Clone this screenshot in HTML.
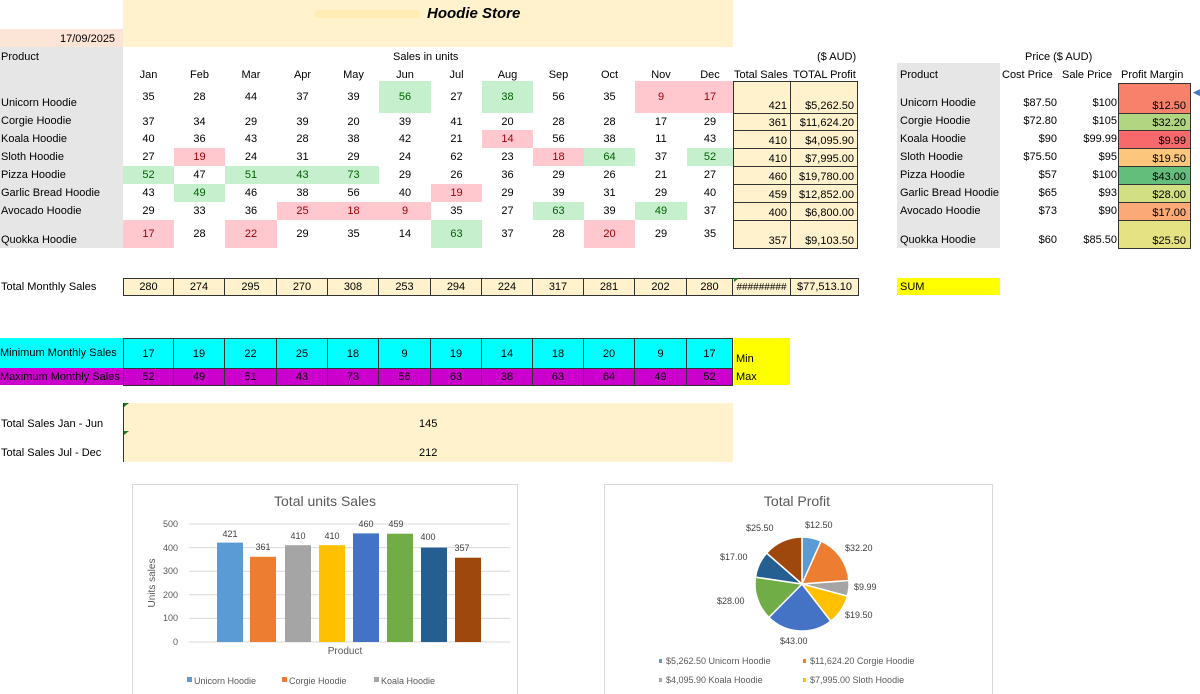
<!DOCTYPE html>
<html><head><meta charset="utf-8"><style>
*{margin:0;padding:0;box-sizing:border-box}
body{width:1200px;height:694px;position:relative;background:#fff;font-family:"Liberation Sans",Arial,sans-serif;font-size:11px;color:#000;overflow:hidden}
.a{position:absolute;white-space:nowrap}
.row{position:absolute;left:123px;display:flex}
.row div{text-align:center;display:flex;align-items:center;justify-content:center;flex:none}
.w1{width:51px}.w2{width:52px}.w3{width:46px}
.g{background:#c6efce;color:#006100}
.r{background:#ffc7ce;color:#9c0006}
.bx div{border:1px solid #333;border-left:none}
.bx div:first-child{border-left:1px solid #333}
.tot div{background:#fff2cc}
.mn div{background:#00ffff}
.mx div{background:#cc00cc}
.ts{position:absolute;background:#fff2cc;border:1px solid #333;text-align:right;padding-right:3px;display:flex;align-items:flex-end;justify-content:flex-end;padding-bottom:1px}
.rt{position:absolute;text-align:right}
.pm{position:absolute;left:1118px;width:73px;border:1px solid #333;text-align:right;padding-right:4px;display:flex;align-items:flex-end;justify-content:flex-end;padding-bottom:1px}
</style></head><body>
<div class="a" style="left:123px;top:0;width:610px;height:47px;background:#fff2cc"></div>
<div class="a" style="left:315px;top:10px;width:105px;height:8px;background:#fdeaa8;border-radius:4px;opacity:.7"></div>
<div class="a" style="left:427px;top:5px;font-size:15px;font-weight:bold;font-style:italic">Hoodie Store</div>
<div class="a" style="left:0;top:29px;width:123px;height:18px;background:#fce4d6"></div>
<div class="a" style="left:60px;top:33px">17/09/2025</div>
<div class="a" style="left:0;top:47px;width:123px;height:201px;background:#e7e6e6"></div>
<div class="a" style="left:1px;top:51px">Product</div>
<div class="a" style="left:393px;top:51px">Sales in units</div>
<div class="a" style="left:817px;top:51px">($ AUD)</div>
<div class="a" style="left:1025px;top:51px">Price ($ AUD)</div>
<div class="row" style="top:68px;height:14px">
<div class="w1">Jan</div><div class="w1">Feb</div><div class="w2">Mar</div><div class="w1">Apr</div><div class="w1">May</div><div class="w2">Jun</div><div class="w1">Jul</div><div class="w1">Aug</div><div class="w1">Sep</div><div class="w1">Oct</div><div class="w2">Nov</div><div class="w3">Dec</div></div>
<div class="a" style="left:734px;top:69px">Total Sales</div>
<div class="a" style="left:793px;top:69px">TOTAL Profit</div>
<div class="a" style="left:897px;top:63px;width:103px;height:185px;background:#e7e6e6"></div>
<div class="a" style="left:900px;top:69px">Product</div>
<div class="a" style="left:1002px;top:69px">Cost Price</div>
<div class="a" style="left:1062px;top:69px">Sale Price</div>
<div class="a" style="left:1121px;top:69px">Profit Margin</div>

<div class="a" style="left:1px;top:97px">Unicorn Hoodie</div>
<div class="a" style="left:1px;top:115px">Corgie Hoodie</div>
<div class="a" style="left:1px;top:133px">Koala Hoodie</div>
<div class="a" style="left:1px;top:151px">Sloth Hoodie</div>
<div class="a" style="left:1px;top:169px">Pizza Hoodie</div>
<div class="a" style="left:1px;top:187px">Garlic Bread Hoodie</div>
<div class="a" style="left:1px;top:205px">Avocado Hoodie</div>
<div class="a" style="left:1px;top:234px">Quokka Hoodie</div>

<div class="row" style="top:81px;height:32px"><div class="w1">35</div><div class="w1">28</div><div class="w2">44</div><div class="w1">37</div><div class="w1">39</div><div class="w2 g">56</div><div class="w1">27</div><div class="w1 g">38</div><div class="w1">56</div><div class="w1">35</div><div class="w2 r">9</div><div class="w3 r">17</div></div>
<div class="row" style="top:113px;height:17px"><div class="w1">37</div><div class="w1">34</div><div class="w2">29</div><div class="w1">39</div><div class="w1">20</div><div class="w2">39</div><div class="w1">41</div><div class="w1">20</div><div class="w1">28</div><div class="w1">28</div><div class="w2">17</div><div class="w3">29</div></div>
<div class="row" style="top:130px;height:18px"><div class="w1">40</div><div class="w1">36</div><div class="w2">43</div><div class="w1">28</div><div class="w1">38</div><div class="w2">42</div><div class="w1">21</div><div class="w1 r">14</div><div class="w1">56</div><div class="w1">38</div><div class="w2">11</div><div class="w3">43</div></div>
<div class="row" style="top:148px;height:18px"><div class="w1">27</div><div class="w1 r">19</div><div class="w2">24</div><div class="w1">31</div><div class="w1">29</div><div class="w2">24</div><div class="w1">62</div><div class="w1">23</div><div class="w1 r">18</div><div class="w1 g">64</div><div class="w2">37</div><div class="w3 g">52</div></div>
<div class="row" style="top:166px;height:18px"><div class="w1 g">52</div><div class="w1">47</div><div class="w2 g">51</div><div class="w1 g">43</div><div class="w1 g">73</div><div class="w2">29</div><div class="w1">26</div><div class="w1">36</div><div class="w1">29</div><div class="w1">26</div><div class="w2">21</div><div class="w3">27</div></div>
<div class="row" style="top:184px;height:18px"><div class="w1">43</div><div class="w1 g">49</div><div class="w2">46</div><div class="w1">38</div><div class="w1">56</div><div class="w2">40</div><div class="w1 r">19</div><div class="w1">29</div><div class="w1">39</div><div class="w1">31</div><div class="w2">29</div><div class="w3">40</div></div>
<div class="row" style="top:202px;height:18px"><div class="w1">29</div><div class="w1">33</div><div class="w2">36</div><div class="w1 r">25</div><div class="w1 r">18</div><div class="w2 r">9</div><div class="w1">35</div><div class="w1">27</div><div class="w1 g">63</div><div class="w1">39</div><div class="w2 g">49</div><div class="w3">37</div></div>
<div class="row" style="top:220px;height:28px"><div class="w1 r">17</div><div class="w1">28</div><div class="w2 r">22</div><div class="w1">29</div><div class="w1">35</div><div class="w2">14</div><div class="w1 g">63</div><div class="w1">37</div><div class="w1">28</div><div class="w1 r">20</div><div class="w2">29</div><div class="w3">35</div></div>

<div class="ts" style="left:733px;top:81px;width:58px;height:33px">421</div>
<div class="ts" style="left:790px;top:81px;width:68px;height:33px">$5,262.50</div>
<div class="ts" style="left:733px;top:113px;width:58px;height:18px">361</div>
<div class="ts" style="left:790px;top:113px;width:68px;height:18px">$11,624.20</div>
<div class="ts" style="left:733px;top:130px;width:58px;height:19px">410</div>
<div class="ts" style="left:790px;top:130px;width:68px;height:19px">$4,095.90</div>
<div class="ts" style="left:733px;top:148px;width:58px;height:19px">410</div>
<div class="ts" style="left:790px;top:148px;width:68px;height:19px">$7,995.00</div>
<div class="ts" style="left:733px;top:166px;width:58px;height:19px">460</div>
<div class="ts" style="left:790px;top:166px;width:68px;height:19px">$19,780.00</div>
<div class="ts" style="left:733px;top:184px;width:58px;height:19px">459</div>
<div class="ts" style="left:790px;top:184px;width:68px;height:19px">$12,852.00</div>
<div class="ts" style="left:733px;top:202px;width:58px;height:19px">400</div>
<div class="ts" style="left:790px;top:202px;width:68px;height:19px">$6,800.00</div>
<div class="ts" style="left:733px;top:220px;width:58px;height:29px">357</div>
<div class="ts" style="left:790px;top:220px;width:68px;height:29px">$9,103.50</div>

<div class="a" style="left:900px;top:97px">Unicorn Hoodie</div>
<div class="a" style="left:900px;top:115px">Corgie Hoodie</div>
<div class="a" style="left:900px;top:133px">Koala Hoodie</div>
<div class="a" style="left:900px;top:151px">Sloth Hoodie</div>
<div class="a" style="left:900px;top:169px">Pizza Hoodie</div>
<div class="a" style="left:900px;top:187px;width:100px;overflow:hidden">Garlic Bread Hoodie</div>
<div class="a" style="left:900px;top:205px">Avocado Hoodie</div>
<div class="a" style="left:900px;top:234px">Quokka Hoodie</div>

<div class="rt" style="left:1000px;width:57px;top:97px">$87.50</div>
<div class="rt" style="left:1000px;width:57px;top:115px">$72.80</div>
<div class="rt" style="left:1000px;width:57px;top:133px">$90</div>
<div class="rt" style="left:1000px;width:57px;top:151px">$75.50</div>
<div class="rt" style="left:1000px;width:57px;top:169px">$57</div>
<div class="rt" style="left:1000px;width:57px;top:187px">$65</div>
<div class="rt" style="left:1000px;width:57px;top:205px">$73</div>
<div class="rt" style="left:1000px;width:57px;top:234px">$60</div>
<div class="rt" style="left:1060px;width:57px;top:97px">$100</div>
<div class="rt" style="left:1060px;width:57px;top:115px">$105</div>
<div class="rt" style="left:1060px;width:57px;top:133px">$99.99</div>
<div class="rt" style="left:1060px;width:57px;top:151px">$95</div>
<div class="rt" style="left:1060px;width:57px;top:169px">$100</div>
<div class="rt" style="left:1060px;width:57px;top:187px">$93</div>
<div class="rt" style="left:1060px;width:57px;top:205px">$90</div>
<div class="rt" style="left:1060px;width:57px;top:234px">$85.50</div>

<div class="pm" style="top:83px;height:31px;background:#f8816b">$12.50</div>
<div class="pm" style="top:113px;height:18px;background:#b1d580">$32.20</div>
<div class="pm" style="top:130px;height:19px;background:#f8696b">$9.99</div>
<div class="pm" style="top:148px;height:19px;background:#fcc77d">$19.50</div>
<div class="pm" style="top:166px;height:19px;background:#63be7b">$43.00</div>
<div class="pm" style="top:184px;height:19px;background:#d2df82">$28.00</div>
<div class="pm" style="top:202px;height:19px;background:#fba977">$17.00</div>
<div class="pm" style="top:220px;height:29px;background:#e5e283">$25.50</div>
<div class="a" style="left:1193px;top:87px;color:#4472c4;font-size:9px">◀</div>

<div class="a" style="left:1px;top:281px">Total Monthly Sales</div>
<div class="row bx tot" style="top:278px;height:18px"><div class="w1">280</div><div class="w1">274</div><div class="w2">295</div><div class="w1">270</div><div class="w1">308</div><div class="w2">253</div><div class="w1">294</div><div class="w1">224</div><div class="w1">317</div><div class="w1">281</div><div class="w2">202</div><div class="w3">280</div><div style="width:58px;font-size:10px">#########</div><div style="width:68px">$77,513.10</div></div>
<div class="a" style="left:897px;top:278px;width:103px;height:17px;background:#ffff00;padding:3px 0 0 3px">SUM</div>

<div class="a" style="left:0;top:338px;width:123px;height:30px;background:#00ffff"></div>
<div class="a" style="left:0;top:368px;width:123px;height:17px;background:#cc00cc"></div>
<div class="a" style="left:0;top:347px;width:123px;overflow:hidden">Minimum Monthly Sales</div>
<div class="a" style="left:0;top:371px;width:123px;overflow:hidden">Maximum Monthly Sales</div>
<div class="row bx mn" style="top:338px;height:31px"><div class="w1">17</div><div class="w1">19</div><div class="w2">22</div><div class="w1">25</div><div class="w1">18</div><div class="w2">9</div><div class="w1">19</div><div class="w1">14</div><div class="w1">18</div><div class="w1">20</div><div class="w2">9</div><div class="w3">17</div></div>
<div class="row bx mx" style="top:368px;height:18px"><div class="w1">52</div><div class="w1">49</div><div class="w2">51</div><div class="w1">43</div><div class="w1">73</div><div class="w2">56</div><div class="w1">63</div><div class="w1">38</div><div class="w1">63</div><div class="w1">64</div><div class="w2">49</div><div class="w3">52</div></div>
<div class="a" style="left:734px;top:338px;width:56px;height:47px;background:#ffff00"></div>
<div class="a" style="left:736px;top:353px">Min</div>
<div class="a" style="left:736px;top:371px">Max</div>

<div class="a" style="left:123px;top:403px;width:610px;height:59px;background:#fff2cc;border-left:1px solid #333"></div>
<div class="a" style="left:1px;top:418px">Total Sales Jan - Jun</div>
<div class="a" style="left:1px;top:447px">Total Sales Jul - Dec</div>
<div class="a" style="left:419px;top:418px">145</div>
<div class="a" style="left:419px;top:447px">212</div>

<svg class="a" style="left:0;top:0" width="1200" height="694" font-family="Liberation Sans, Arial, sans-serif">
<rect x="132.5" y="484.5" width="385" height="215" fill="#fff" stroke="#d9d9d9"/>
<text x="325" y="506" font-size="14" fill="#595959" text-anchor="middle">Total units Sales</text>
<g stroke="#d9d9d9"><line x1="189" x2="510" y1="524" y2="524"/><line x1="189" x2="510" y1="547.6" y2="547.6"/><line x1="189" x2="510" y1="571.2" y2="571.2"/><line x1="189" x2="510" y1="594.8" y2="594.8"/><line x1="189" x2="510" y1="618.4" y2="618.4"/><line x1="189" x2="510" y1="642" y2="642"/></g>
<g font-size="9" fill="#595959" text-anchor="end"><text x="178" y="527">500</text><text x="178" y="551">400</text><text x="178" y="574">300</text><text x="178" y="598">200</text><text x="178" y="621">100</text><text x="178" y="645">0</text></g>
<text transform="translate(155,583) rotate(-90)" font-size="10" fill="#595959" text-anchor="middle">Units sales</text>
<rect x="217" y="542.6" width="26" height="99.4" fill="#5b9bd5"/>
<rect x="250" y="556.8" width="26" height="85.2" fill="#ed7d31"/>
<rect x="285" y="545.2" width="26" height="96.8" fill="#a5a5a5"/>
<rect x="319" y="545.2" width="26" height="96.8" fill="#ffc000"/>
<rect x="353" y="533.4" width="26" height="108.6" fill="#4472c4"/>
<rect x="387" y="533.7" width="26" height="108.3" fill="#70ad47"/>
<rect x="421" y="547.6" width="26" height="94.4" fill="#255e91"/>
<rect x="455" y="557.7" width="26" height="84.3" fill="#9e480e"/>
<g font-size="9" fill="#404040" text-anchor="middle"><text x="230" y="537">421</text><text x="263" y="550">361</text><text x="298" y="539">410</text><text x="332" y="539">410</text><text x="366" y="527">460</text><text x="396" y="527">459</text><text x="428" y="540">400</text><text x="462" y="551">357</text></g>
<text x="345" y="654" font-size="10" fill="#595959" text-anchor="middle">Product</text>
<g font-size="9" fill="#595959"><rect x="187" y="677" width="5" height="5" fill="#5b9bd5"/><text x="194" y="684">Unicorn Hoodie</text><rect x="282" y="677" width="5" height="5" fill="#ed7d31"/><text x="289" y="684">Corgie Hoodie</text><rect x="374" y="677" width="5" height="5" fill="#a5a5a5"/><text x="381" y="684">Koala Hoodie</text></g>

<rect x="604.5" y="484.5" width="388" height="215" fill="#fff" stroke="#d9d9d9"/>
<text x="797" y="506" font-size="14" fill="#595959" text-anchor="middle">Total Profit</text>
<g stroke="#fff" stroke-width="1.5">
<path d="M802,584 L802,537 A47,47 0 0 1 821.1,541.1 Z" fill="#5b9bd5"/>
<path d="M802,584 L821.1,541.1 A47,47 0 0 1 848.9,580.5 Z" fill="#ed7d31"/>
<path d="M802,584 L848.9,580.5 A47,47 0 0 1 847.4,596.1 Z" fill="#a5a5a5"/>
<path d="M802,584 L847.4,596.1 A47,47 0 0 1 830.7,621.2 Z" fill="#ffc000"/>
<path d="M802,584 L830.7,621.2 A47,47 0 0 1 768.9,617.4 Z" fill="#4472c4"/>
<path d="M802,584 L768.9,617.4 A47,47 0 0 1 755.5,577.1 Z" fill="#70ad47"/>
<path d="M802,584 L755.5,577.1 A47,47 0 0 1 766.6,553.1 Z" fill="#255e91"/>
<path d="M802,584 L766.6,553.1 A47,47 0 0 1 802,537 Z" fill="#9e480e"/>
</g>
<g font-size="9" fill="#404040"><text x="805" y="528">$12.50</text><text x="845" y="551">$32.20</text><text x="854" y="590">$9.99</text><text x="845" y="618">$19.50</text><text x="780" y="644">$43.00</text><text x="717" y="604">$28.00</text><text x="720" y="560">$17.00</text><text x="746" y="531">$25.50</text></g>
<g font-size="9" fill="#595959">
<rect x="659" y="659" width="3" height="4" fill="#5b9bd5"/><text x="666" y="664">$5,262.50  Unicorn Hoodie</text>
<rect x="803" y="659" width="3" height="4" fill="#ed7d31"/><text x="810" y="664">$11,624.20  Corgie Hoodie</text>
<rect x="659" y="678" width="3" height="4" fill="#a5a5a5"/><text x="666" y="683">$4,095.90  Koala Hoodie</text>
<rect x="803" y="678" width="3" height="4" fill="#ffc000"/><text x="810" y="683">$7,995.00  Sloth Hoodie</text>
</g>
<path d="M124,403 l5,0 l-5,4z M124,431 l5,0 l-5,4z M734,278 l5,0 l-5,4z" fill="#1f7a1f"/>
</svg>
</body></html>
